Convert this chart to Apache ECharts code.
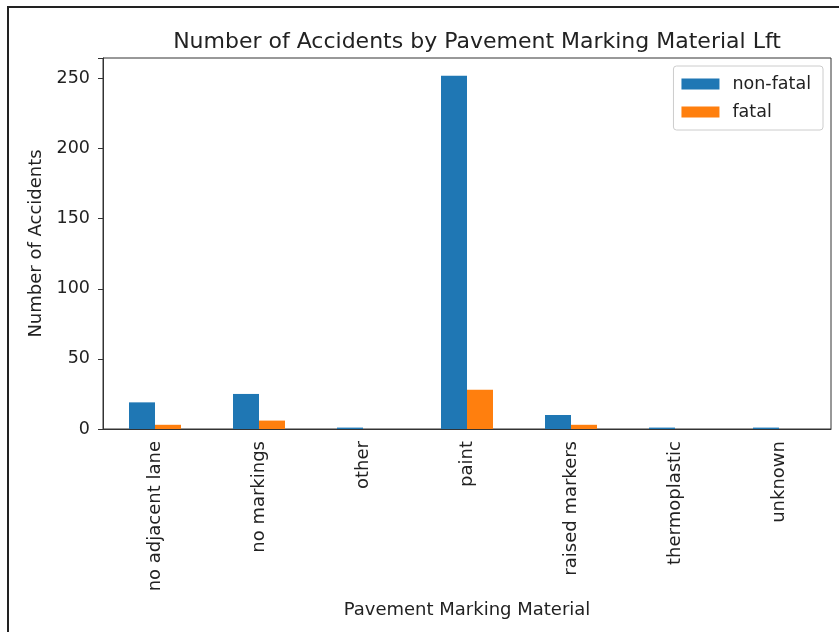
<!DOCTYPE html>
<html>
<head>
<meta charset="utf-8">
<script src="https://cdn.jsdelivr.net/npm/echarts@6/dist/echarts.min.js"></script>
<style>
  body { margin: 0; background: #fff; }
</style>
</head>
<body>
<div id="myChart" style="width:839px;height:632px"></div>
<script>
var categories = ['no adjacent lane', 'no markings', 'other', 'paint', 'raised markers', 'thermoplastic', 'unknown']
var nonFatal = [19, 25, 1, 252, 10, 1, 1]
var fatal = [3, 6, 0, 28, 3, 0, 0]
var yTicks = [0, 50, 100, 150, 200, 250]

var font = 'DejaVu Sans'
var myChart = echarts.init(document.getElementById('myChart'))

var options = {
  animation: false,
  textStyle: { fontFamily: font },
  title: {
    text: 'Number of Accidents by Pavement Marking Material Lft',
    left: 472, top: 26, textAlign: 'center',
    textStyle: { fontSize: 22, fontWeight: 'normal', color: '#222', fontFamily: font }
  },
  graphic: [{
    type: 'rect',
    shape: { x: 8, y: 7, width: 900, height: 700 },
    style: { fill: 'none', stroke: '#222', lineWidth: 2 },
    silent: true
  }],
  legend: {
    right: 16, top: 66,
    orient: 'vertical',
    itemWidth: 38, itemHeight: 11, itemGap: 10,
    padding: [9, 12, 9, 8],
    borderColor: '#ccc', borderWidth: 1, borderRadius: 3,
    icon: 'rect',
    textStyle: { fontSize: 17.5, color: '#222', fontFamily: font, padding: [0, 0, 0, 8] },
    data: ['non-fatal', 'fatal']
  },
  grid: {
    left: 103, right: 8, top: 58, bottom: 203,
    show: true, borderColor: '#333', borderWidth: 1
  },
  xAxis: {
    type: 'category',
    data: categories,
    name: 'Pavement Marking Material',
    nameLocation: 'middle', nameGap: 172,
    nameTextStyle: { fontSize: 18, color: '#222' },
    axisLine: { lineStyle: { color: '#333' } },
    axisTick: { alignWithLabel: true, length: 5, lineStyle: { color: '#333' } },
    axisLabel: { rotate: 90, fontSize: 18, color: '#222', margin: 12 }
  },
  yAxis: {
    type: 'value',
    min: 0, max: 264.6, interval: 50,
    name: 'Number of Accidents',
    nameLocation: 'middle', nameGap: 58,
    nameTextStyle: { fontSize: 18, color: '#222' },
    splitLine: { show: false },
    axisLine: { show: true, lineStyle: { color: '#333' } },
    axisTick: { show: true, length: 5, lineStyle: { color: '#333' } },
    axisLabel: {
      fontSize: 17.5, color: '#222', margin: 13,
      formatter: function (v) { return yTicks.indexOf(v) >= 0 ? String(v) : '' }
    }
  },
  series: [{
    name: 'non-fatal',
    type: 'bar',
    data: nonFatal,
    barWidth: 26, barGap: '0%',
    itemStyle: { color: '#1f77b4' }
  }, {
    name: 'fatal',
    type: 'bar',
    data: fatal,
    barWidth: 26,
    itemStyle: { color: '#ff7f0e' }
  }]
}

myChart.setOption(options)
</script>
</body>
</html>
